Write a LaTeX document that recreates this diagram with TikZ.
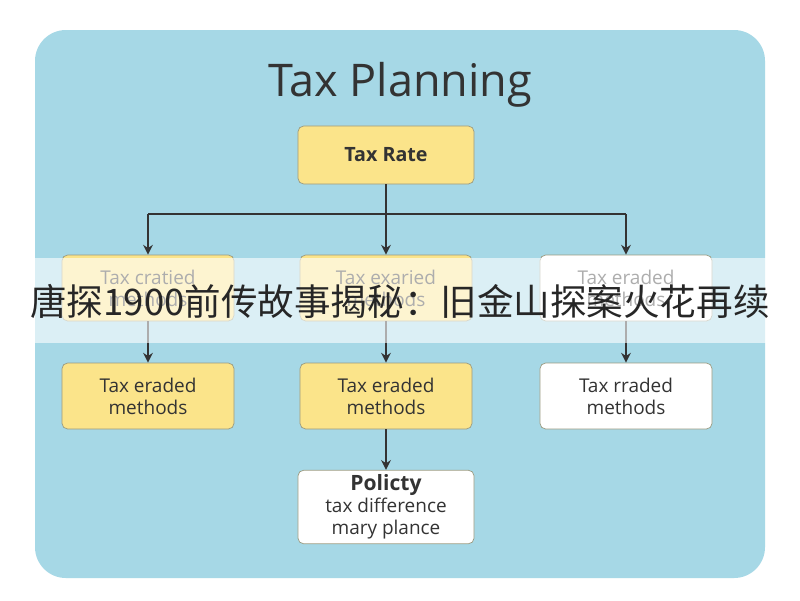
\documentclass[tikz,border=0pt]{standalone}
\usepackage{fontspec}
\setmainfont{Open Sans}
\newfontfamily\cjk{Noto Sans CJK SC}
\usetikzlibrary{positioning,arrows.meta}
\definecolor{panelblue}{HTML}{A6D8E6}
\definecolor{boxyellow}{HTML}{FBE48A}
\definecolor{boxedge}{HTML}{9A9A80}

\tikzset{
  taxbox/.style={draw=boxedge, rounded corners=4pt, minimum width=4.3cm, minimum height=1.65cm,
    align=center, font=\fontsize{13.5}{15.5}\selectfont, text=black!80, line width=0.5pt},
  yel/.style={taxbox, fill=boxyellow},
  wht/.style={taxbox, fill=white},
  link/.style={-{Stealth[length=7pt,width=7pt]}, line width=1pt, black!80}
}

\begin{document}
\begin{tikzpicture}[x=0.025cm, y=-0.025cm]
      \useasboundingbox (0,0) rectangle (800,600);
      \fill[white] (0,0) rectangle (800,600);
      \fill[panelblue, rounded corners=22pt] (35,30) rectangle (765,578);
      \node[font=\fontsize{32}{36}\selectfont, text=black!80] (title) at (400,85) {Tax Planning};
      \node[yel, minimum width=4.4cm, minimum height=1.45cm, font=\bfseries\fontsize{14}{16}\selectfont] (rate) at (386,155) {Tax Rate};
      % first row
      \node[yel] (c1) at (148,288) {Tax cratied\\methods};
      \node[yel] (c2) at (386,288) {Tax exaried\\methods};
      \node[wht] (c3) at (626,288) {Tax eraded\\methods};
      % second row
      \node[yel] (d1) at (148,396) {Tax eraded\\methods};
      \node[yel] (d2) at (386,396) {Tax eraded\\methods};
      \node[wht] (d3) at (626,396) {Tax rraded\\methods};
      \node[wht, minimum width=4.4cm, minimum height=1.8cm] (pol) at (386,507)
        {{\bfseries\fontsize{15}{17}\selectfont Policty}\\tax difference\\mary plance};
      \coordinate (split) at (386,214);
      \draw[line width=1pt, black!80] (rate) -- (split);
      \draw[line width=1pt, black!80] (c1.north |- split) -- (c3.north |- split);
      \foreach \n in {c1,c2,c3} \draw[link] (\n.north |- split) -- (\n.north);
      \foreach \i in {1,2,3} \draw[link] (c\i) -- (d\i);
      \draw[link] (d2) -- (pol);
      % banner
      \fill[white, opacity=0.6] (0,258) rectangle (800,343);
      \node[font=\cjk\fontsize{26}{30}\selectfont, text=black!85] (banner) at (400,301) {唐探1900前传故事揭秘：旧金山探案火花再续};
\end{tikzpicture}
\end{document}
